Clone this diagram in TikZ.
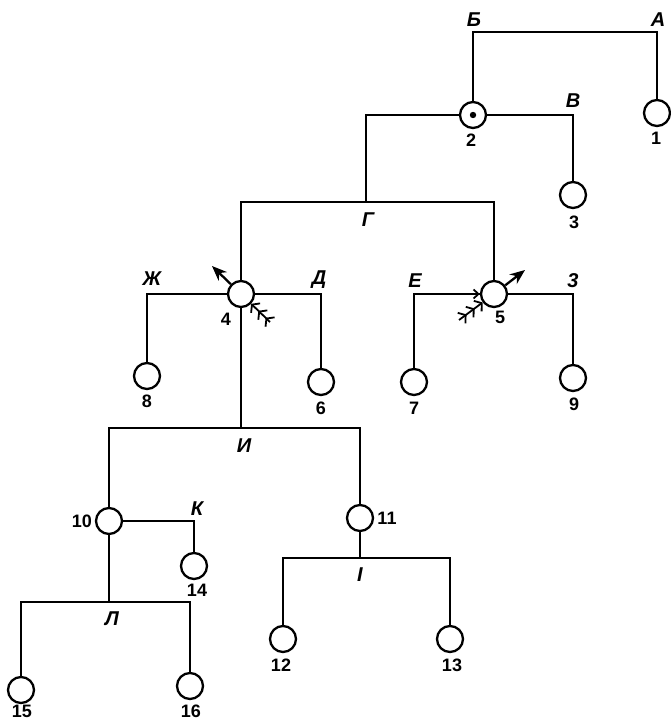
\documentclass[tikz,border=0pt]{standalone}
\usepackage{fontspec}
\setmainfont{Liberation Sans}
\usetikzlibrary{arrows.meta}
\tikzset{
  x=1pt,y=-1pt,
  vtx/.style={circle,draw,line width=2.3pt,fill=white,minimum size=26pt,inner sep=0pt},
  wire/.style={line width=2.3pt,line join=miter},
  lab/.style={font=\bfseries\itshape\fontsize{20}{20}\selectfont,inner sep=0pt},
  num/.style={font=\bfseries\fontsize{18}{18}\selectfont,inner sep=0pt},
  outarr/.style={line width=2.3pt,-{Stealth[length=15pt,width=12pt]}},
  inarr/.style={line width=1.8pt,-{Straight Barb[length=5pt,width=13pt,sep=3pt]Straight Barb[length=5pt,width=13pt,sep=3pt]Straight Barb[length=5pt,width=13pt]}},
}
\begin{document}
\begin{tikzpicture}
\useasboundingbox (0,0) rectangle (671,722);
% vertices
\node[vtx] (n1) at (657,113) {};
\node[vtx] (n2) at (473,115) {};
\fill (n2.center) circle (3.2pt);
\node[vtx] (n3) at (573,195) {};
\node[vtx] (n4) at (241,294) {};
\node[vtx] (n5) at (494,294) {};
\node[vtx] (n6) at (321,382) {};
\node[vtx] (n7) at (414,382) {};
\node[vtx] (n8) at (147,376) {};
\node[vtx] (n9) at (573,378) {};
\node[vtx] (n10) at (109,521) {};
\node[vtx] (n11) at (360,518) {};
\node[vtx] (n12) at (283,639) {};
\node[vtx] (n13) at (450,639) {};
\node[vtx] (n14) at (194,566) {};
\node[vtx] (n15) at (21,690) {};
\node[vtx] (n16) at (190,686) {};
% junctions
\coordinate (jA) at (657,32);
\coordinate (jB) at (473,32);
\coordinate (jV) at (573,115);
\coordinate (jL2) at (366,115);
\coordinate (jG) at (366,202);
\coordinate (jGl) at (241,202);
\coordinate (jGr) at (494,202);
\coordinate (jZh) at (147,294);
\coordinate (jD) at (321,294);
\coordinate (jE) at (414,294);
\coordinate (jZ) at (573,294);
\coordinate (jI) at (241,428);
\coordinate (jIl) at (109,428);
\coordinate (jIr) at (360,428);
\coordinate (jK) at (194,521);
\coordinate (jLm) at (109,602);
\coordinate (jLl) at (21,602);
\coordinate (jLr) at (190,602);
\coordinate (jJ) at (360,558);
\coordinate (jJl) at (283,558);
\coordinate (jJr) at (450,558);
\coordinate (t4a) at (212,266);
\coordinate (t5a) at (525,270);
\coordinate (t4b) at (270,322);
\coordinate (t5b) at (459,320);
% wires
\draw[wire] (n1) -- (jA) -- (jB) -- (n2);
\draw[wire] (n2) -- (jV) -- (n3);
\draw[wire] (n2) -- (jL2) -- (jG);
\draw[wire] (n4) -- (jGl) -- (jGr) -- (n5);
\draw[wire] (n8) -- (jZh) -- (n4);
\draw[wire] (n4) -- (jD) -- (n6);
\draw[wire] (n7) -- (jE) -- (n5);
\draw[wire] (n5) -- (jZ) -- (n9);
\draw[wire] (n4) -- (jI);
\draw[wire] (n10) -- (jIl) -- (jIr) -- (n11);
\draw[wire] (n10) -- (jK) -- (n14);
\draw[wire] (n10) -- (jLm);
\draw[wire] (n15) -- (jLl) -- (jLr) -- (n16);
\draw[wire] (n11) -- (jJ);
\draw[wire] (n12) -- (jJl) -- (jJr) -- (n13);
% arrows
\draw[outarr] (n4) -- (t4a);
\draw[outarr] (n5) -- (t5a);
\draw[inarr] (t4b) -- (n4);
\draw[inarr] (t5b) -- (n5);
\draw[line width=1.8pt,-{Straight Barb[length=5pt,width=9pt]}] (jE) -- (n5);
% numbers
\node[num] (l1) at (656,138) {1};
\node[num] (l2) at (471,140) {2};
\node[num] (l3) at (574,222) {3};
\node[num] (l4) at (226,319) {4};
\node[num] (l5) at (500,317) {5};
\node[num] (l6) at (321,408) {6};
\node[num] (l7) at (414,408) {7};
\node[num] (l8) at (147,401) {8};
\node[num] (l9) at (574,404) {9};
\node[num] (l10) at (82,521) {10};
\node[num] (l11) at (387,518) {11};
\node[num] (l12) at (281,665) {12};
\node[num] (l13) at (452,665) {13};
\node[num] (l14) at (197,590) {14};
\node[num] (l15) at (22,711) {15};
\node[num] (l16) at (191,711) {16};
% letters
\node[lab] (a) at (658,20) {А};
\node[lab] (b) at (474,20) {Б};
\node[lab] (v) at (573,101) {В};
\node[lab] (g) at (368,220) {Г};
\node[lab] (zh) at (152,279) {Ж};
\node[lab] (d) at (319,280) {Д};
\node[lab] (e) at (415,281) {Е};
\node[lab] (z) at (573,281) {3};
\node[lab] (i) at (244,446) {И};
\node[lab] (k) at (197,509) {К};
\node[lab] (ja) at (360,575) {I};
\node[lab] (el) at (112,619) {Л};
\end{tikzpicture}
\end{document}
